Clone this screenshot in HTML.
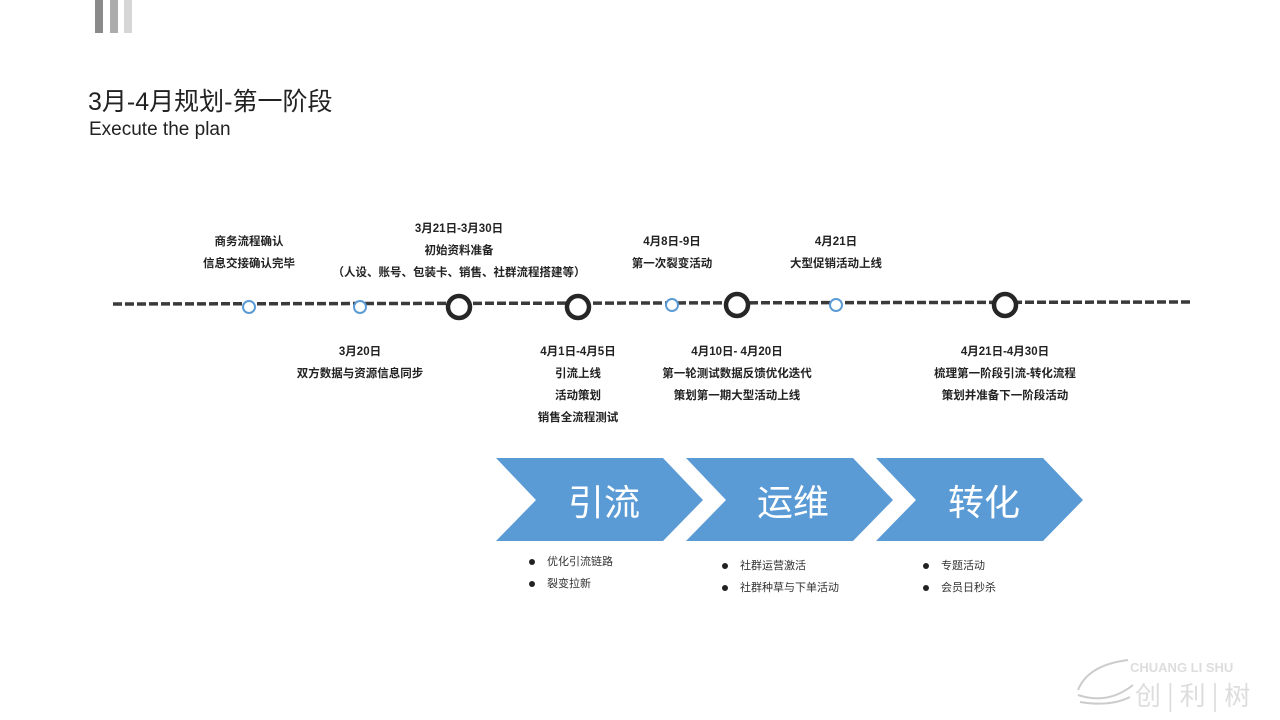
<!DOCTYPE html>
<html><head><meta charset="utf-8"><style>
body{margin:0;width:1280px;height:720px;background:#fff;position:relative;overflow:hidden;font-family:"Liberation Sans","Noto Sans CJK SC",sans-serif;}
.t{position:absolute;font-size:11.5px;font-weight:bold;color:#222;text-align:center;line-height:22px;white-space:nowrap;transform:translateX(-50%);}
.b{position:absolute;font-size:11px;color:#333;line-height:22px;white-space:nowrap;}
.b span{display:inline-block;width:6px;height:6px;border-radius:50%;background:#222;margin-right:12px;vertical-align:middle;}
</style></head><body>
<div style="position:absolute;left:95px;top:0;width:8px;height:33px;background:#8a8a8a"></div>
<div style="position:absolute;left:110px;top:0;width:8px;height:33px;background:#acacac"></div>
<div style="position:absolute;left:124px;top:0;width:8px;height:33px;background:#d6d6d6"></div>
<div style="position:absolute;left:88px;top:82px;font-size:25px;color:#222;">3月-4月规划-第一阶段</div>
<div style="position:absolute;left:89px;top:119px;font-size:19px;color:#222;">Execute the plan</div>
<svg width="1280" height="720" style="position:absolute;left:0;top:0">
<line x1="113" y1="304" x2="1190" y2="302" stroke="#3a3a3a" stroke-width="3.5" stroke-dasharray="9,3"/>
<g fill="#fff" stroke="#5b9bd5" stroke-width="2">
<circle cx="249" cy="307" r="6"/><circle cx="360" cy="307" r="6"/><circle cx="672" cy="305" r="6"/><circle cx="836" cy="305" r="6"/></g>
<g fill="#fff" stroke="#262626" stroke-width="4.5">
<circle cx="459" cy="307" r="11"/><circle cx="578" cy="307" r="11"/><circle cx="737" cy="305" r="11"/><circle cx="1005" cy="305" r="11"/></g>
<g fill="#5b9bd5">
<polygon points="496,458 663,458 703,500 663,541 496,541 536,500"/>
<polygon points="686,458 853,458 893,500 853,541 686,541 726,500"/>
<polygon points="876,458 1043,458 1083,500 1043,541 876,541 916,500"/>
</g>
<g fill="#fff" font-size="36" font-family="Liberation Sans,Noto Sans CJK SC,sans-serif" text-anchor="middle">
<text x="604" y="515">引流</text><text x="793" y="515">运维</text><text x="984" y="515">转化</text></g>
<g fill="none" stroke="#ccc" stroke-width="2"><path d="M1078 690 q10-25 50-30"/><path d="M1078 695 q30 10 55-10"/><path d="M1080 702 q30 5 50-5"/></g>
<text x="1130" y="672" font-size="13" font-weight="bold" fill="#ddd" font-family="Liberation Sans,sans-serif">CHUANG LI SHU</text>
<text x="1135" y="705" font-size="26" fill="#ddd" font-family="Noto Sans CJK SC,sans-serif">创 | 利 | 树</text>
</svg>
<div class="t" style="left:249px;top:231px">商务流程确认<br>信息交接确认完毕</div>
<div class="t" style="left:459px;top:218px">3月21日-3月30日<br>初始资料准备<br>（人设、账号、包装卡、销售、社群流程搭建等）</div>
<div class="t" style="left:672px;top:231px">4月8日-9日<br>第一次裂变活动</div>
<div class="t" style="left:836px;top:231px">4月21日<br>大型促销活动上线</div>
<div class="t" style="left:360px;top:341px">3月20日<br>双方数据与资源信息同步</div>
<div class="t" style="left:578px;top:341px">4月1日-4月5日<br>引流上线<br>活动策划<br>销售全流程测试</div>
<div class="t" style="left:737px;top:341px">4月10日- 4月20日<br>第一轮测试数据反馈优化迭代<br>策划第一期大型活动上线</div>
<div class="t" style="left:1005px;top:341px">4月21日-4月30日<br>梳理第一阶段引流-转化流程<br>策划并准备下一阶段活动</div>
<div class="b" style="left:529px;top:551px"><span></span>优化引流链路<br><span></span>裂变拉新</div>
<div class="b" style="left:722px;top:555px"><span></span>社群运营激活<br><span></span>社群种草与下单活动</div>
<div class="b" style="left:923px;top:555px"><span></span>专题活动<br><span></span>会员日秒杀</div>
</body></html>
